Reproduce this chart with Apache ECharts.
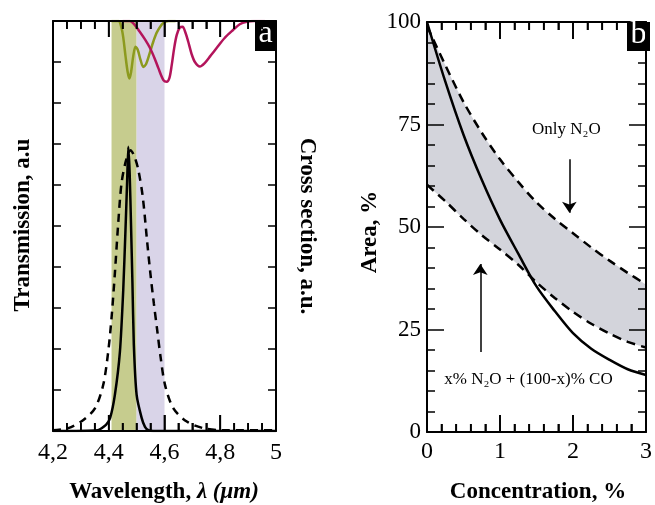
<!DOCTYPE html>
<html lang="en">
<head>
<meta charset="UTF-8" />
<title>Filter transmission and area vs concentration</title>
<script src="https://cdn.jsdelivr.net/npm/echarts@6/dist/echarts.min.js"></script>
<style>html, body { margin: 0; padding: 0; background: #fff; }</style>
</head>
<body>
<div id="main" style="width: 655px; height: 505px"></div>
<script>
// ---- panel a : wavelength (um) vs a.u. ----
var bandGreen = [4.41, 4.5];
var bandPurple = [4.5, 4.6];
// absorption cross sections drawn from the top
var n2oSigma = [
  [4.41, 10], [4.435, 10], [4.445, 9.85], [4.452, 9.6], [4.46, 9.15], [4.468, 8.75],
  [4.474, 8.6], [4.48, 8.75], [4.488, 9.15], [4.496, 9.37], [4.504, 9.3], [4.514, 9.05],
  [4.524, 8.88], [4.534, 8.95], [4.548, 9.24], [4.56, 9.5], [4.573, 9.73], [4.595, 9.95],
  [4.615, 10], [4.64, 10]
];
var coSigma = [
  [4.45, 10], [4.475, 10], [4.49, 9.93], [4.51, 9.75], [4.53, 9.55], [4.548, 9.34],
  [4.565, 9.08], [4.578, 8.85], [4.596, 8.56], [4.608, 8.52], [4.618, 8.62], [4.626, 8.93],
  [4.635, 9.35], [4.644, 9.66], [4.655, 9.84], [4.665, 9.86], [4.675, 9.72], [4.685, 9.5],
  [4.697, 9.2], [4.709, 9.0], [4.727, 8.89], [4.745, 8.98], [4.765, 9.15], [4.787, 9.34],
  [4.815, 9.58], [4.846, 9.78], [4.87, 9.92], [4.895, 9.98], [4.92, 10], [4.96, 10]
];
// filter transmission
var transWide = [
  [4.2, 0.02], [4.255, 0.07], [4.309, 0.27], [4.351, 0.56], [4.38, 1.12], [4.398, 1.93],
  [4.41, 2.76], [4.422, 3.85], [4.434, 5.07], [4.446, 6.05], [4.462, 6.6], [4.478, 6.85],
  [4.492, 6.7], [4.506, 6.37], [4.522, 5.71], [4.538, 4.6], [4.55, 3.8], [4.562, 3.1],
  [4.574, 2.45], [4.586, 1.8], [4.602, 1.12], [4.632, 0.55], [4.68, 0.23], [4.739, 0.07],
  [4.8, 0.02], [5, 0.02]
];
var transNarrow = [
  [4.2, 0], [4.36, 0.02], [4.39, 0.15], [4.405, 0.32], [4.422, 0.88], [4.44, 1.93],
  [4.452, 3.44], [4.46, 4.9], [4.466, 6.1], [4.47, 6.93], [4.475, 6.3], [4.48, 5.0],
  [4.485, 3.6], [4.49, 2.1], [4.5, 0.88], [4.518, 0.32], [4.53, 0.1], [4.542, 0.02],
  [4.56, 0], [5, 0]
];
var wlTicks = ['4,2', '4,4', '4,6', '4,8', '5'];
var wlMajor = [4.2, 4.4, 4.6, 4.8, 5];
var wlMinor = [4.25, 4.3, 4.35, 4.45, 4.5, 4.55, 4.65, 4.7, 4.75, 4.85, 4.9, 4.95];

// ---- panel b : concentration (%) vs area (%) ----
var conc = [0, 0.25, 0.5, 0.75, 1, 1.25, 1.5, 1.75, 2, 2.25, 2.5, 2.75, 3];
var onlyN2O = [99, 89.5, 80.5, 73, 66.5, 61, 56, 52, 48.5, 45, 41.8, 38.8, 36];
var mixN2OCO = [60.3, 56.3, 52, 48, 44.5, 40.8, 36.5, 32.7, 29.3, 26.4, 24, 22, 20.6];
var areaSolid = [100, 85.5, 72.5, 61.5, 51.8, 43.5, 35.5, 29.5, 24.1, 20.3, 17.6, 15.3, 13.9];
var concMajor = [0, 1, 2, 3];
var concMinor = [0.2, 0.4, 0.6, 0.8, 1.2, 1.4, 1.6, 1.8, 2.2, 2.4, 2.6, 2.8];
var arrowN2O = [[1.95, 66.5], [1.95, 53.5]];
var arrowMix = [[0.73, 19.5], [0.73, 41]];
var noteN2OAt = [1.91, 73.7];
var noteMixAt = [1.39, 12.9];

var serif = 'Liberation Serif';
var black = '#000';

function pairs(xs, ys) {
  return xs.map(function (x, i) { return [x, ys[i]]; });
}

function axis(o) {
  var showLabel = !!o.label;
  return {
    gridIndex: o.grid, type: 'value', position: o.pos, min: o.min, max: o.max,
    interval: o.interval, z: 10,
    axisLine: { onZero: false, lineStyle: { color: black, width: 2 } },
    axisTick: { show: true, inside: true, length: o.tick,
                lineStyle: { color: black, width: 1.5 } },
    minorTick: { show: !!o.minor, splitNumber: o.minor || 5, length: 8,
                 lineStyle: { color: black, width: 1.5 } },
    splitLine: { show: false },
    minorSplitLine: { show: false },
    axisLabel: { show: showLabel, fontFamily: serif, fontSize: o.fs || 23, color: black,
                 margin: o.margin || 8, formatter: o.label, showMinLabel: true, showMaxLabel: true }
  };
}

// x ticks on bottom and top edges, placed through the x scale (own layer on top)
function tickSeries(xIdx, yIdx, major, minor, majorLen) {
  var data = major.map(function (v) { return [v, 1]; })
    .concat(minor.map(function (v) { return [v, 0]; }));
  return {
    type: 'custom', xAxisIndex: xIdx, yAxisIndex: yIdx, data: data,
    z: 20, zlevel: 1, silent: true, clip: false,
    renderItem: function (params, api) {
      var cs = params.coordSys;
      var x = api.coord([api.value(0), 0])[0];
      var len = api.value(1) ? majorLen : 8;
      var yb = cs.y + cs.height;
      return {
        type: 'group',
        children: [
          { type: 'line', shape: { x1: x, y1: yb, x2: x, y2: yb - len },
            style: { stroke: black, lineWidth: 1.8 } },
          { type: 'line', shape: { x1: x, y1: cs.y, x2: x, y2: cs.y + len },
            style: { stroke: black, lineWidth: 1.8 } }
        ]
      };
    }
  };
}

var chart = echarts.init(document.getElementById('main'));

var option = {
  animation: false,
  backgroundColor: '#fff',
  grid: [
    { left: 53, top: 21, width: 223, height: 410 },
    { left: 427, top: 22, width: 223, height: 410 }
  ],
  xAxis: [
    axis({ grid: 0, pos: 'bottom', min: 4.2, max: 5, interval: 0.2, tick: 16, minor: 4, fs: 24, margin: 10,
           label: function (v) { return wlTicks[Math.round((v - 4.2) / 0.2)]; } }),
    axis({ grid: 0, pos: 'top', min: 4.2, max: 5, interval: 0.2, tick: 16, minor: 4 }),
    axis({ grid: 1, pos: 'bottom', min: 0, max: 3, interval: 1, tick: 17, minor: 5, fs: 24, margin: 8,
           label: function (v) { return String(v); } }),
    axis({ grid: 1, pos: 'top', min: 0, max: 3, interval: 1, tick: 17, minor: 5 })
  ],
  yAxis: [
    axis({ grid: 0, pos: 'left', min: 0, max: 10, interval: 1, tick: 8 }),
    axis({ grid: 0, pos: 'right', min: 0, max: 10, interval: 1, tick: 8 }),
    axis({ grid: 1, pos: 'left', min: 0, max: 100, interval: 25, tick: 17, minor: 5, fs: 23, margin: 6,
           label: function (v) { return String(v); } }),
    axis({ grid: 1, pos: 'right', min: 0, max: 100, interval: 25, tick: 17, minor: 5 })
  ],
  series: [
    {
      name: 'N2O', type: 'line', xAxisIndex: 0, yAxisIndex: 0, data: n2oSigma,
      smooth: 0.3, symbol: 'none', lineStyle: { color: '#8c9a1e', width: 2.5 },
      markArea: {
        silent: true,
        data: [
          [{ xAxis: bandGreen[0], itemStyle: { color: '#c6cc8e' } }, { xAxis: bandGreen[1] }],
          [{ xAxis: bandPurple[0], itemStyle: { color: '#d9d4e8' } }, { xAxis: bandPurple[1] }]
        ]
      }
    },
    {
      name: 'CO', type: 'line', xAxisIndex: 0, yAxisIndex: 0, data: coSigma,
      smooth: 0.3, symbol: 'none', lineStyle: { color: '#b3145b', width: 2.5 }
    },
    {
      name: 'wide', type: 'line', xAxisIndex: 0, yAxisIndex: 0, data: transWide,
      smooth: 0.3, symbol: 'none', lineStyle: { color: black, width: 2.5, type: [8, 6] }
    },
    {
      name: 'narrow', type: 'line', xAxisIndex: 0, yAxisIndex: 0, data: transNarrow,
      smooth: 0.2, symbol: 'none', lineStyle: { color: black, width: 2.5 }
    },
    // grey band: fill under the upper dashed curve, then mask under the lower one
    {
      name: 'Only N2O', type: 'line', xAxisIndex: 2, yAxisIndex: 2, data: pairs(conc, onlyN2O),
      smooth: 0.3, symbol: 'none', lineStyle: { color: black, width: 2.5, type: [9, 6] },
      areaStyle: { color: '#d3d4db', opacity: 1, origin: 'start' }
    },
    {
      name: 'mix', type: 'line', xAxisIndex: 2, yAxisIndex: 2, data: pairs(conc, mixN2OCO),
      smooth: 0.3, symbol: 'none', lineStyle: { color: black, width: 2.5, type: [9, 6] },
      areaStyle: { color: '#fff', opacity: 1, origin: 'start' },
      markPoint: {
        silent: true, symbol: 'rect', symbolSize: 1, itemStyle: { color: 'rgba(0,0,0,0)' },
        label: { show: true, position: 'inside', fontFamily: serif, fontSize: 17, color: black },
        data: [
          { coord: noteN2OAt, label: { formatter: 'Only N\u2082O' } },
          { coord: noteMixAt, label: { formatter: 'x% N\u2082O + (100-x)% CO' } }
        ]
      }
    },
    {
      name: 'solid', type: 'line', xAxisIndex: 2, yAxisIndex: 2, data: pairs(conc, areaSolid),
      smooth: 0.3, symbol: 'none', lineStyle: { color: black, width: 2.5 },
      markLine: {
        silent: true, symbol: ['none', 'arrow'], symbolSize: 11,
        label: { show: false },
        lineStyle: { color: black, width: 1.5, type: 'solid' },
        data: [
          [{ coord: arrowN2O[0] }, { coord: arrowN2O[1] }],
          [{ coord: arrowMix[0] }, { coord: arrowMix[1] }]
        ]
      }
    },
    tickSeries(0, 0, wlMajor, wlMinor, 16),
    tickSeries(2, 2, concMajor, concMinor, 17)
  ],
  graphic: [
    { type: 'rect', left: 255, top: 21, shape: { width: 21, height: 30 }, style: { fill: black }, z: 20 },
    { type: 'text', x: 265.5, y: 34, z: 21,
      style: { text: 'a', fill: '#fff', font: '32px "Liberation Serif"', align: 'center', verticalAlign: 'middle' } },
    { type: 'rect', left: 627, top: 22, shape: { width: 23, height: 29 }, style: { fill: black }, z: 20 },
    { type: 'text', x: 638.5, y: 35, z: 21,
      style: { text: 'b', fill: '#fff', font: '32px "Liberation Serif"', align: 'center', verticalAlign: 'middle' } },
    { type: 'text', x: 23, y: 225, rotation: Math.PI / 2,
      style: { text: 'Transmission, a.u', fill: black, font: 'bold 23px "Liberation Serif"', align: 'center', verticalAlign: 'middle' } },
    { type: 'text', x: 307, y: 226, rotation: -Math.PI / 2,
      style: { text: 'Cross section, a.u.', fill: black, font: 'bold 23px "Liberation Serif"', align: 'center', verticalAlign: 'middle' } },
    { type: 'text', x: 370, y: 232, rotation: Math.PI / 2,
      style: { text: 'Area, %', fill: black, font: 'bold 23px "Liberation Serif"', align: 'center', verticalAlign: 'middle' } },
    { type: 'text', x: 164, y: 492,
      style: {
        text: '{b|Wavelength, }{i|\u03bb (\u03bcm)}', align: 'center', verticalAlign: 'middle',
        rich: {
          b: { fontFamily: serif, fontWeight: 'bold', fontSize: 23, fill: black },
          i: { fontFamily: serif, fontWeight: 'bold', fontStyle: 'italic', fontSize: 23, fill: black }
        }
      } },
    { type: 'text', x: 538, y: 492,
      style: { text: 'Concentration, %', fill: black, font: 'bold 23px "Liberation Serif"', align: 'center', verticalAlign: 'middle' } }
  ]
};

chart.setOption(option);
</script>
</body>
</html>
